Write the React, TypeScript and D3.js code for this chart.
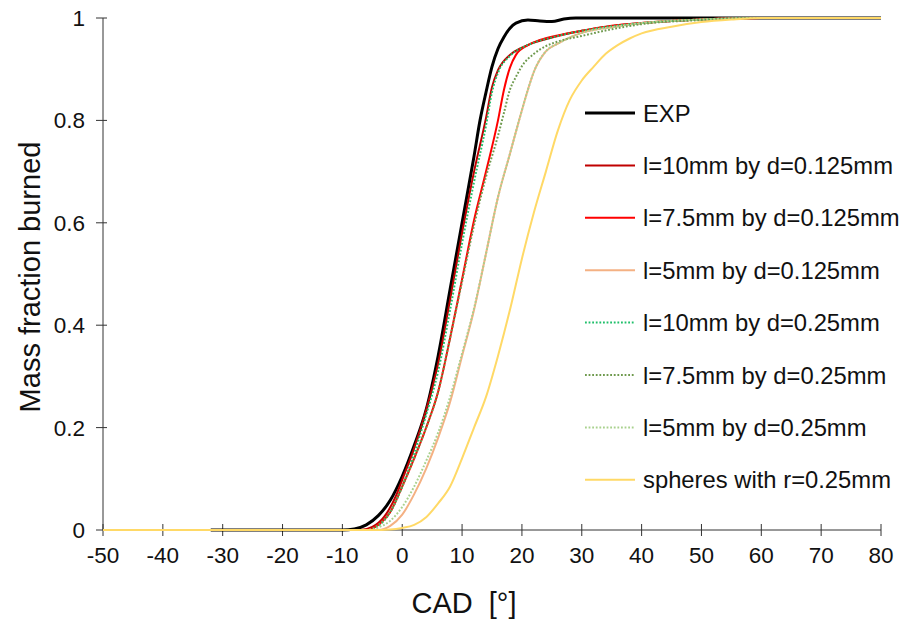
import React, { useEffect, useRef } from 'react';
import * as d3 from 'd3';

// CAD [deg] vs mass fraction burned
const exp: [number, number][] = [[-32, 0], [-10, 0], [-8, 0.002], [-6, 0.01], [-4, 0.028], [-2, 0.058], [0, 0.105], [2, 0.165], [4, 0.235], [6, 0.34], [8, 0.47], [10, 0.6], [12, 0.73], [13, 0.8], [14, 0.855], [15, 0.905], [16, 0.94], [17, 0.963], [18, 0.98], [19, 0.99], [21, 0.996], [23, 0.994], [25, 0.993], [27, 0.998], [29, 1], [80, 1]];
const l10d0125: [number, number][] = [[-50, 0], [-7, 0], [-5, 0.006], [-3, 0.026], [-1, 0.068], [0, 0.098], [2, 0.16], [4, 0.235], [6, 0.325], [8, 0.45], [10, 0.58], [12, 0.7], [14, 0.805], [15, 0.865], [16, 0.898], [18, 0.928], [20, 0.942], [22, 0.952], [25, 0.962], [30, 0.975], [35, 0.984], [40, 0.99], [50, 0.997], [60, 1], [80, 1]];
const l75d0125: [number, number][] = [[-50, 0], [-6, 0], [-4, 0.01], [-2, 0.035], [0, 0.085], [2, 0.14], [4, 0.2], [6, 0.27], [8, 0.375], [10, 0.49], [12, 0.605], [14, 0.7], [16, 0.8], [17, 0.86], [18, 0.903], [19, 0.928], [21, 0.947], [23, 0.957], [26, 0.966], [30, 0.975], [35, 0.985], [40, 0.99], [50, 0.997], [60, 1], [80, 1]];
const l5d0125: [number, number][] = [[-50, 0], [-4, 0], [-2, 0.008], [0, 0.03], [2, 0.07], [4, 0.12], [6, 0.18], [8, 0.25], [10, 0.34], [12, 0.43], [14, 0.54], [16, 0.65], [18, 0.735], [20, 0.82], [21, 0.86], [22, 0.895], [24, 0.935], [26, 0.95], [28, 0.962], [30, 0.971], [35, 0.982], [40, 0.99], [50, 0.997], [60, 1], [80, 1]];
const l10d025: [number, number][] = [[-50, 0], [-6, 0], [-4, 0.008], [-2, 0.035], [0, 0.085], [2, 0.15], [4, 0.225], [6, 0.31], [8, 0.43], [10, 0.56], [12, 0.68], [14, 0.79], [15, 0.855], [16, 0.893], [18, 0.926], [20, 0.942], [22, 0.952], [25, 0.962], [30, 0.975], [35, 0.984], [40, 0.99], [50, 0.997], [60, 1], [80, 1]];
const l75d025: [number, number][] = [[-50, 0], [-6, 0], [-4, 0.01], [-2, 0.035], [0, 0.085], [2, 0.14], [4, 0.2], [6, 0.27], [8, 0.375], [10, 0.485], [12, 0.595], [14, 0.69], [16, 0.77], [17, 0.815], [18, 0.86], [19, 0.885], [20, 0.906], [22, 0.93], [24, 0.945], [26, 0.954], [30, 0.965], [35, 0.978], [40, 0.988], [50, 0.996], [60, 1], [80, 1]];
const l5d025: [number, number][] = [[-50, 0], [-6, 0], [-4, 0.005], [-2, 0.018], [0, 0.045], [2, 0.085], [4, 0.135], [6, 0.19], [8, 0.26], [10, 0.345], [12, 0.433], [14, 0.54], [16, 0.65], [18, 0.735], [20, 0.82], [21, 0.86], [22, 0.895], [24, 0.935], [26, 0.95], [28, 0.962], [30, 0.971], [35, 0.982], [40, 0.99], [50, 0.997], [60, 1], [80, 1]];
const spheres: [number, number][] = [[-50, 0], [-5, 0], [-2, 0.001], [0, 0.004], [2, 0.01], [4, 0.025], [6, 0.052], [8, 0.085], [10, 0.14], [12, 0.2], [14, 0.26], [16, 0.34], [18, 0.43], [20, 0.53], [22, 0.62], [24, 0.7], [26, 0.78], [28, 0.84], [30, 0.878], [32, 0.905], [34, 0.93], [36, 0.947], [38, 0.96], [40, 0.97], [45, 0.983], [50, 0.992], [55, 0.997], [60, 1], [80, 1]];

const seriesNames = ['EXP', 'l=10mm by d=0.125mm', 'l=7.5mm by d=0.125mm', 'l=5mm by d=0.125mm', 'l=10mm by d=0.25mm', 'l=7.5mm by d=0.25mm', 'l=5mm by d=0.25mm', 'spheres with r=0.25mm'];
const seriesData = [exp, l10d0125, l75d0125, l5d0125, l10d025, l75d025, l5d025, spheres];

const xTicks = [-50, -40, -30, -20, -10, 0, 10, 20, 30, 40, 50, 60, 70, 80];
const yTicks = [0, 0.2, 0.4, 0.6, 0.8, 1];

const styles = [
    { color: '#000000', width: 3, dash: null },
    { color: '#c00000', width: 2, dash: null },
    { color: '#ff0000', width: 2, dash: null },
    { color: '#f4b183', width: 2, dash: null },
    { color: '#1fbf6a', width: 2, dash: '1.8 1.8' },
    { color: '#6f9a4e', width: 2, dash: '1.8 1.8' },
    { color: '#a9d18e', width: 2, dash: '1.8 1.8' },
    { color: '#ffd966', width: 2, dash: null },
];

const font = '"Liberation Sans", Arial, sans-serif';

export default function App() {
    const ref = useRef<SVGSVGElement>(null);

    useEffect(() => {
        document.body.style.margin = '0';
        const svg = d3.select(ref.current);
        svg.selectAll('*').remove();

        const x = d3.scaleLinear().domain([-50, 80]).range([103, 881]);
        const y = d3.scaleLinear().domain([0, 1]).range([530, 18]);

        const axisColor = '#333';

        // axes
        svg.append('line')
            .attr('x1', x(-50)).attr('x2', x(80))
            .attr('y1', y(0)).attr('y2', y(0))
            .attr('stroke', axisColor).attr('stroke-width', 1);
        svg.append('line')
            .attr('x1', x(-50)).attr('x2', x(-50))
            .attr('y1', y(0)).attr('y2', y(1))
            .attr('stroke', axisColor).attr('stroke-width', 1);

        svg.append('g').selectAll('line')
            .data(xTicks).enter().append('line')
            .attr('x1', (d) => x(d)).attr('x2', (d) => x(d))
            .attr('y1', y(0) - 6).attr('y2', y(0) + 6)
            .attr('stroke', axisColor);
        svg.append('g').selectAll('text')
            .data(xTicks).enter().append('text')
            .attr('x', (d) => x(d)).attr('y', 563)
            .attr('text-anchor', 'middle')
            .style('font-family', font).style('font-size', '22.5px')
            .attr('fill', '#111')
            .text((d) => d);

        svg.append('g').selectAll('line')
            .data(yTicks).enter().append('line')
            .attr('x1', x(-50) - 7).attr('x2', x(-50) + 4)
            .attr('y1', (d) => y(d)).attr('y2', (d) => y(d))
            .attr('stroke', axisColor);
        svg.append('g').selectAll('text')
            .data(yTicks).enter().append('text')
            .attr('x', 85).attr('y', (d) => y(d) + 8)
            .attr('text-anchor', 'end')
            .style('font-family', font).style('font-size', '22.5px')
            .attr('fill', '#111')
            .text((d) => String(d));

        // titles
        svg.append('text')
            .attr('transform', 'translate(40,277) rotate(-90)')
            .attr('text-anchor', 'middle')
            .style('font-family', font).style('font-size', '29px')
            .attr('fill', '#111')
            .text('Mass fraction burned');
        svg.append('text')
            .attr('x', 464).attr('y', 613)
            .attr('text-anchor', 'middle')
            .style('font-family', font).style('font-size', '29px')
            .style('white-space', 'pre')
            .attr('fill', '#111')
            .text('CAD  [°]');

        const line = d3.line<[number, number]>()
            .x((d) => x(d[0]))
            .y((d) => y(d[1]))
            .curve(d3.curveMonotoneX);

        seriesData.forEach((data, i) => {
            const s = styles[i];
            svg.append('path')
                .datum(data)
                .attr('d', line)
                .attr('fill', 'none')
                .attr('stroke', s.color)
                .attr('stroke-width', s.width)
                .attr('stroke-dasharray', s.dash)
                .attr('stroke-linejoin', 'round');
        });

        // legend
        const legend = svg.append('g');
        seriesNames.forEach((name, i) => {
            const s = styles[i];
            const ly = 113 + i * 52.4;
            legend.append('line')
                .attr('x1', 585).attr('x2', 635)
                .attr('y1', ly).attr('y2', ly)
                .attr('stroke', s.color)
                .attr('stroke-width', s.width)
                .attr('stroke-dasharray', s.dash);
            legend.append('text')
                .attr('x', 643).attr('y', ly + 8.5)
                .style('font-family', font).style('font-size', '23.8px')
                .attr('fill', '#111')
                .text(name);
        });
    }, []);

    return <svg ref={ref} width={901} height={619} style={{ display: 'block' }} />;
}
